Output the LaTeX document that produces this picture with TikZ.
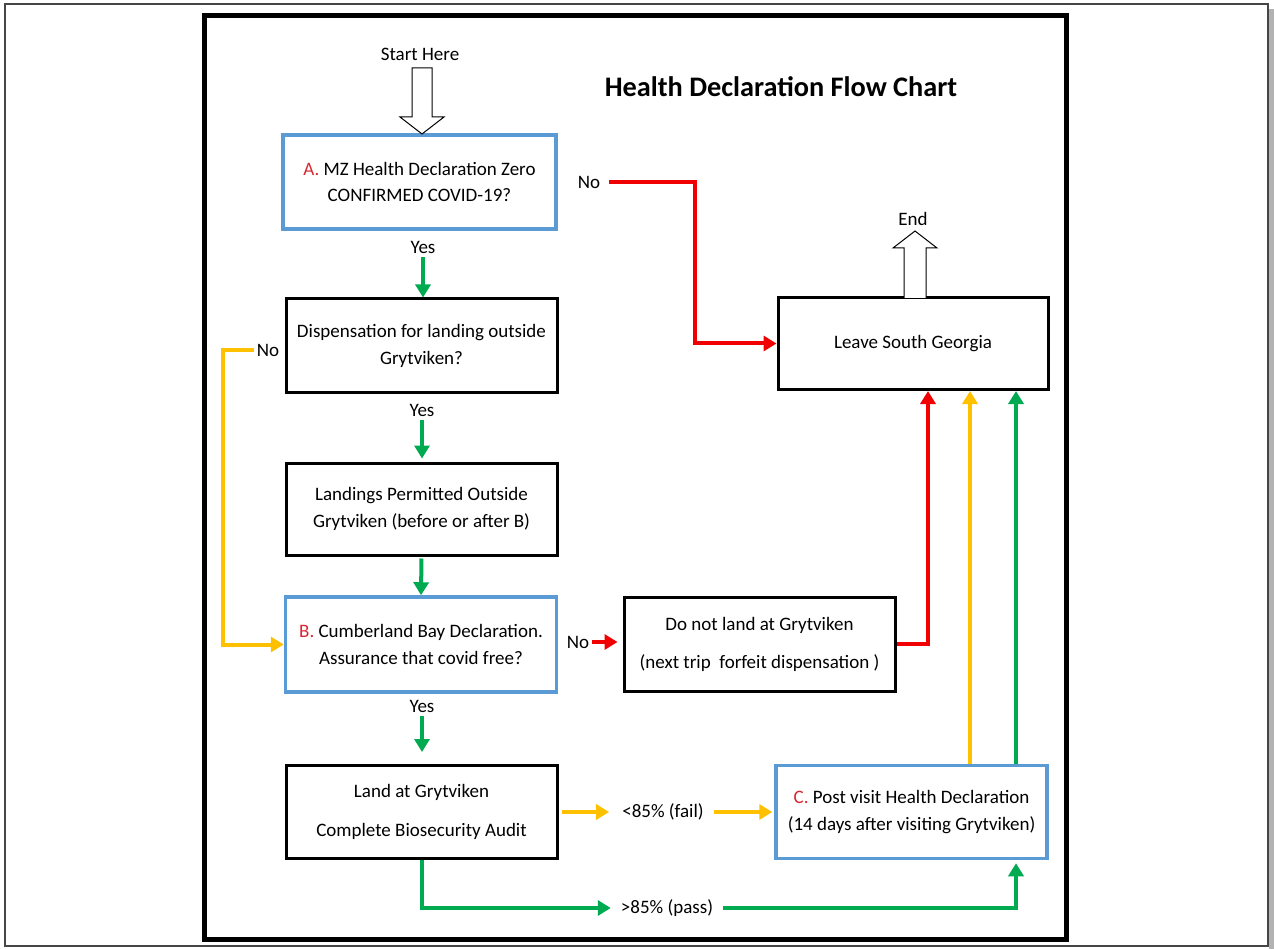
\documentclass[tikz,border=0pt]{standalone}
\usepackage{fontspec}
\setmainfont{Carlito}
\usetikzlibrary{arrows.meta,calc}
\definecolor{boxblue}{RGB}{91,155,213}
\definecolor{fgreen}{RGB}{0,170,80}
\definecolor{fyellow}{RGB}{255,192,0}
\definecolor{fred}{RGB}{240,0,0}
\definecolor{lred}{RGB}{215,40,50}
\definecolor{framegray}{RGB}{70,70,70}
\newcommand\bodyfont{\fontsize{19}{27}\selectfont}
\newcommand\lab[1]{\textcolor{lred}{#1}}
\tikzset{
  box/.style={draw=black, line width=3pt, minimum width=271pt, minimum height=93pt,
    align=center, font=\bodyfont, inner sep=2pt},
  bluebox/.style={box, draw=boxblue, line width=3.5pt},
  lbl/.style={font=\bodyfont, inner sep=3pt},
  conn/.style={line width=4pt, -{Triangle[width=15pt,length=13pt]}},
  gconn/.style={conn, draw=fgreen},
  yconn/.style={conn, draw=fyellow},
  rconn/.style={conn, draw=fred},
  hollow/.style={draw=black, line width=1pt, fill=white}
}
\begin{document}
\begin{tikzpicture}[x=1pt,y=-1pt]
\useasboundingbox (0,0) rectangle (1274,949);
\fill[white] (0,0) rectangle (1274,949);
% page frames
\fill[gray!60] (1269,9) rectangle (1274,949);
\draw[line width=1.5pt, draw=framegray] (5,4) rectangle (1268,946);
\draw[line width=5pt] (204,16) rectangle (1066,939);

% texts
\node[lbl] (start) at (420,54) {Start Here};
\node[font=\fontsize{28.3}{32}\selectfont\bfseries] (title) at (781,87) {Health Declaration Flow Chart};

% boxes
\node[bluebox, minimum width=273pt, minimum height=94pt, font=\fontsize{19}{26}\selectfont] (A) at (419.5,182)
  {\lab{A.} MZ Health Declaration Zero\\CONFIRMED COVID-19?};
\node[box, minimum height=93pt] (disp) at (421.5,345.5) {Dispensation for landing outside\\Grytviken?};
\node[box, minimum height=92pt] (perm) at (421.5,509) {Landings Permitted Outside\\Grytviken (before or after B)};
\node[bluebox, minimum height=95pt] (B) at (421,644.5) {\lab{B.} Cumberland Bay Declaration.\\Assurance that covid free?};
\node[box, minimum height=93pt] (E) at (421.5,812) {Land at Grytviken\\[12pt]Complete Biosecurity Audit};
\node[box, minimum height=94pt] (D) at (759.5,644) {Do not land at Grytviken\\[11pt](next trip\ \ forfeit dispensation )};
\node[box, minimum width=270pt, minimum height=92pt] (leave) at (913,343.5) {Leave South Georgia};
\node[bluebox, minimum height=93pt] (C) at (911.5,812) {\lab{C.} Post visit Health Declaration\\(14 days after visiting Grytviken)};

% labels
\node[lbl] (yes1) at (423,247) {Yes};
\node[lbl] (yes2) at (422,410) {Yes};
\node[lbl] (yes3) at (422,706) {Yes};
\node[lbl] (noA) at (589,182) {No};
\node[lbl] (noDisp) at (268,350) {No};
\node[lbl] (noB) at (578,642) {No};
\node[lbl] (endl) at (913,219) {End};
\node[lbl] (fail) at (663,812) {<85\% (fail)};
\node[lbl] (pass) at (667,908) {>85\% (pass)};

% turning coordinates
\coordinate (rA) at (695,0);
\coordinate (yL) at (223,0);
\coordinate (rx) at (928,0);
\coordinate (yx) at (970,0);
\coordinate (gx) at (1016,0);

% block arrows
\draw[hollow] (412,68) -- (432,68) -- (432,117) -- (444,117) -- (422,134) -- (400,117) -- (412,117) -- cycle;
\draw[hollow] (904,298) -- (904,248) -- (893,248) -- (915,231) -- (937,248) -- (926,248) -- (926,298);

% connectors
\draw[gconn, shorten <=1pt] (yes1.south) -- (yes1.south |- disp.north);
\draw[gconn, shorten <=1pt, shorten >=3pt] (yes2.south) -- (yes2.south |- perm.north);
\draw[gconn, shorten <=2pt] (perm.south) -- (B.north);
\draw[gconn, shorten <=1pt, shorten >=12pt] (yes3.south) -- (yes3.south |- E.north);
\draw[rconn, shorten <=6pt] (noA.east) -- (noA.east -| rA) |- (leave.west);
\draw[yconn] (noDisp.west) -- (noDisp.west -| yL) |- (B.west);
\draw[rconn, shorten >=5pt] (noB.east) -- (noB.east -| D.west);
\draw[rconn] (D.east) -| (leave.south -| rx);
\draw[yconn] (C.north -| yx) -- (leave.south -| yx);
\draw[gconn] (C.north -| gx) -- (leave.south -| gx);
\draw[yconn, shorten <=3pt, shorten >=10pt] (E.east) -- (E.east -| fail.west);
\draw[yconn, shorten <=7pt, shorten >=2pt] (fail.east) -- (fail.east -| C.west);
\draw[gconn, shorten >=7pt] (E.south) |- (pass.west);
\draw[gconn, shorten <=7pt, shorten >=3pt] (pass.east) -| (C.south -| gx);
\end{tikzpicture}
\end{document}
